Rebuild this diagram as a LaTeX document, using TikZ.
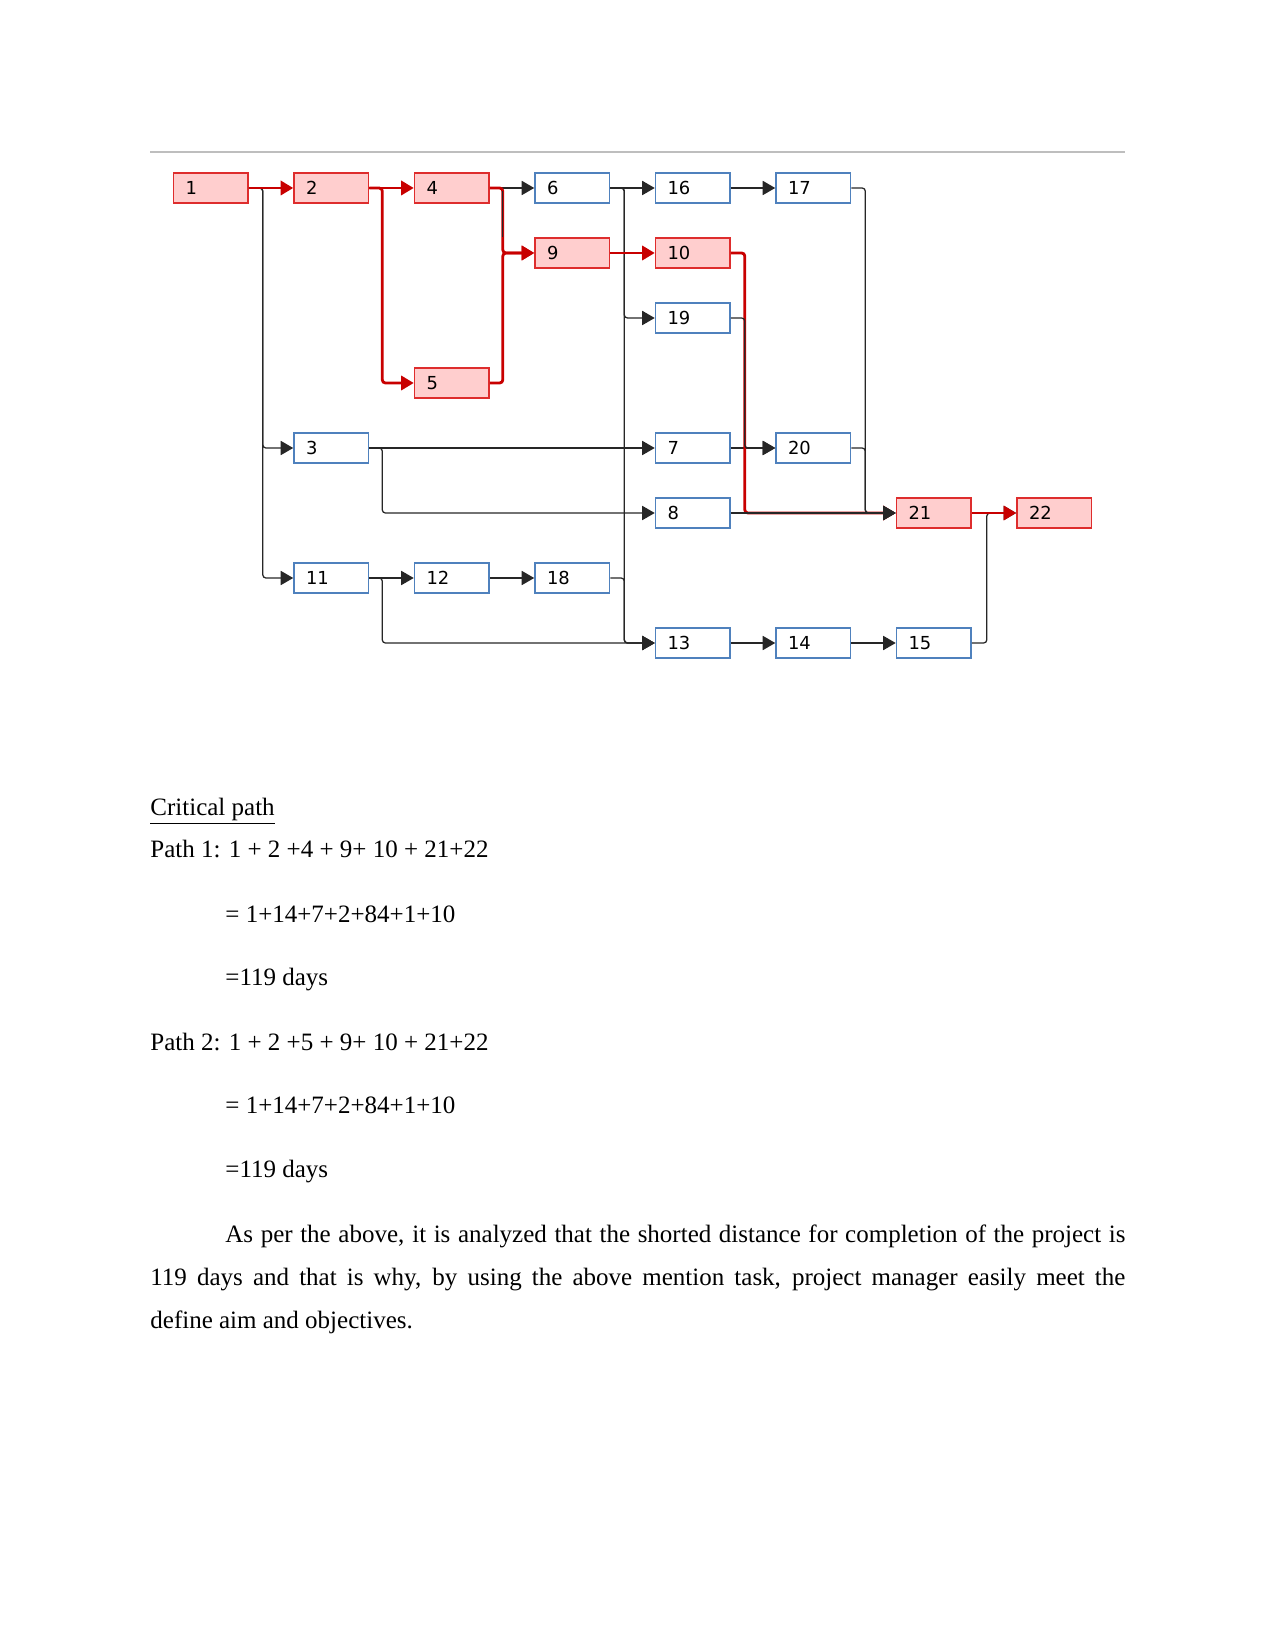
\documentclass[tikz,border=0pt]{standalone}
\usepackage{fontspec}
\setmainfont{Liberation Serif}
\newfontfamily\boxfont{DejaVu Sans}
\usetikzlibrary{arrows.meta,calc}
\definecolor{critred}{RGB}{200,0,0}
\definecolor{critfill}{RGB}{255,206,206}
\definecolor{critborder}{RGB}{222,45,45}
\definecolor{taskblue}{RGB}{79,129,189}
\definecolor{rulegray}{RGB}{190,190,190}
\begin{document}
\begin{tikzpicture}[x=0.48pt,y=-0.48pt,
  task/.style={draw=taskblue, line width=0.8pt, fill=white, minimum height=14.6pt,
    text width=24.2pt, inner xsep=5.76pt, inner ysep=0pt, align=left,
    font=\boxfont\fontsize{8.6}{10}\selectfont},
  crittask/.style={task, draw=critborder, fill=critfill},
  blk/.style={draw=black!85, line width=0.6pt, rounded corners=1.5pt,
    -{Triangle[length=6pt,width=6.8pt]}},
  blkline/.style={draw=black!85, line width=0.6pt},
  crit/.style={draw=critred, line width=1.35pt, rounded corners=1.5pt,
    -{Triangle[length=6pt,width=6.8pt]}},
  txt/.style={anchor=base west, inner sep=0pt, font=\fontsize{12}{14}\selectfont}]

\useasboundingbox (0,0) rectangle (1275,1650);

% top rule
\draw[rulegray, line width=1pt] (150,152) -- (1125,152);

% tasks
\node[crittask] (n1)  at (210.75,188) {1};
\node[crittask] (n2)  at (331.25,188) {2};
\node[crittask] (n4)  at (451.75,188) {4};
\node[task]     (n6)  at (572.25,188) {6};
\node[task]     (n16) at (692.75,188) {16};
\node[task]     (n17) at (813.25,188) {17};
\node[crittask] (n9)  at (572.25,253) {9};
\node[crittask] (n10) at (692.75,253) {10};
\node[task]     (n19) at (692.75,318) {19};
\node[crittask] (n5)  at (451.75,383) {5};
\node[task]     (n3)  at (331.25,448) {3};
\node[task]     (n7)  at (692.75,448) {7};
\node[task]     (n20) at (813.25,448) {20};
\node[task]     (n8)  at (692.75,513) {8};
\node[crittask] (n21) at (933.75,513) {21};
\node[crittask] (n22) at (1054.25,513) {22};
\node[task]     (n11) at (331.25,578) {11};
\node[task]     (n12) at (451.75,578) {12};
\node[task]     (n18) at (572.25,578) {18};
\node[task]     (n13) at (692.75,643) {13};
\node[task]     (n14) at (813.25,643) {14};
\node[task]     (n15) at (933.75,643) {15};

% black connectors (below red)
\draw[blk] (n1.east) -- ++(14,0) |- (n3.west);
\draw[blk] (n1.east) -- ++(14,0) |- (n11.west);
\draw[blk] (n4.east) -- (n6.west);
\draw[blk] (n6.east) -- (n16.west);
\draw[blk] (n6.east) -- ++(14,0) |- (n19.west);
\draw[blk] (n6.east) -- ++(14,0) |- (n13.west);
\draw[blk] (n16.east) -- (n17.west);
\draw[blk] (n3.east) -- (n7.west);
\draw[blk] (n3.east) -- ++(13,0) |- (n8.west);
\draw[blk] (n7.east) -- (n20.west);
\draw[blk] (n11.east) -- (n12.west);
\draw[blk] (n12.east) -- (n18.west);
\draw[blk] (n11.east) -- ++(13,0) |- (n13.west);
\draw[blk] (n18.east) -- ++(14,0) |- (n13.west);
\draw[blk] (n13.east) -- (n14.west);
\draw[blk] (n14.east) -- (n15.west);
\draw[blk] (n15.east) -- ++(15,0) |- (n22.west);

% critical path
\draw[crit] (n1.east) -- (n2.west);
\draw[crit] (n2.east) -- (n4.west);
\draw[crit] (n2.east) -- ++(13,0) |- (n5.west);
\draw[crit] (n4.east) -- ++(13,0) |- (n9.west);
\draw[crit] (n5.east) -- ++(13,0) |- (n9.west);
\draw[crit] (n9.east) -- (n10.west);
\draw[crit] (n10.east) -- ++(14,0) |- (n21.west);
\draw[crit] (n21.east) -- (n22.west);

% black connectors drawn over the red
\coordinate (v49) at ($(n4.east)+(13,3)$);
\draw[blkline] (v49) -- (v49 |- n9.north);
\draw[blk] (n19.east) -- ++(14,0) |- (n20.west);
\draw[blk] (n8.east) -- (n21.west);
\draw[blk] (n17.east) -- ++(14,0) |- (n21.west);
\draw[blk] (n20.east) -- ++(14,0) |- (n21.west);

% text
\node[txt] (h)  at (150,815) {\underline{Critical path}};
\node[txt] (p1) at (150,857) {Path 1: 1 + 2 +4 + 9+ 10 + 21+22};
\node[txt] (p1a) at (225,922) {= 1+14+7+2+84+1+10};
\node[txt] (p1b) at (225,985) {=119 days};
\node[txt] (p2) at (150,1050) {Path 2: 1 + 2 +5 + 9+ 10 + 21+22};
\node[txt] (p2a) at (225,1113) {= 1+14+7+2+84+1+10};
\node[txt] (p2b) at (225,1177) {=119 days};
\node[txt] (l1) at (225,1242) {\hbox to 432pt{As per the above, it is analyzed that the shorted distance for completion of the project is}};
\node[txt] (l2) at (150,1285) {\hbox to 468pt{119 days and that is why, by using the above mention task, project manager easily meet the}};
\node[txt] (l3) at (150,1328) {define aim and objectives.};
\end{tikzpicture}
\end{document}
